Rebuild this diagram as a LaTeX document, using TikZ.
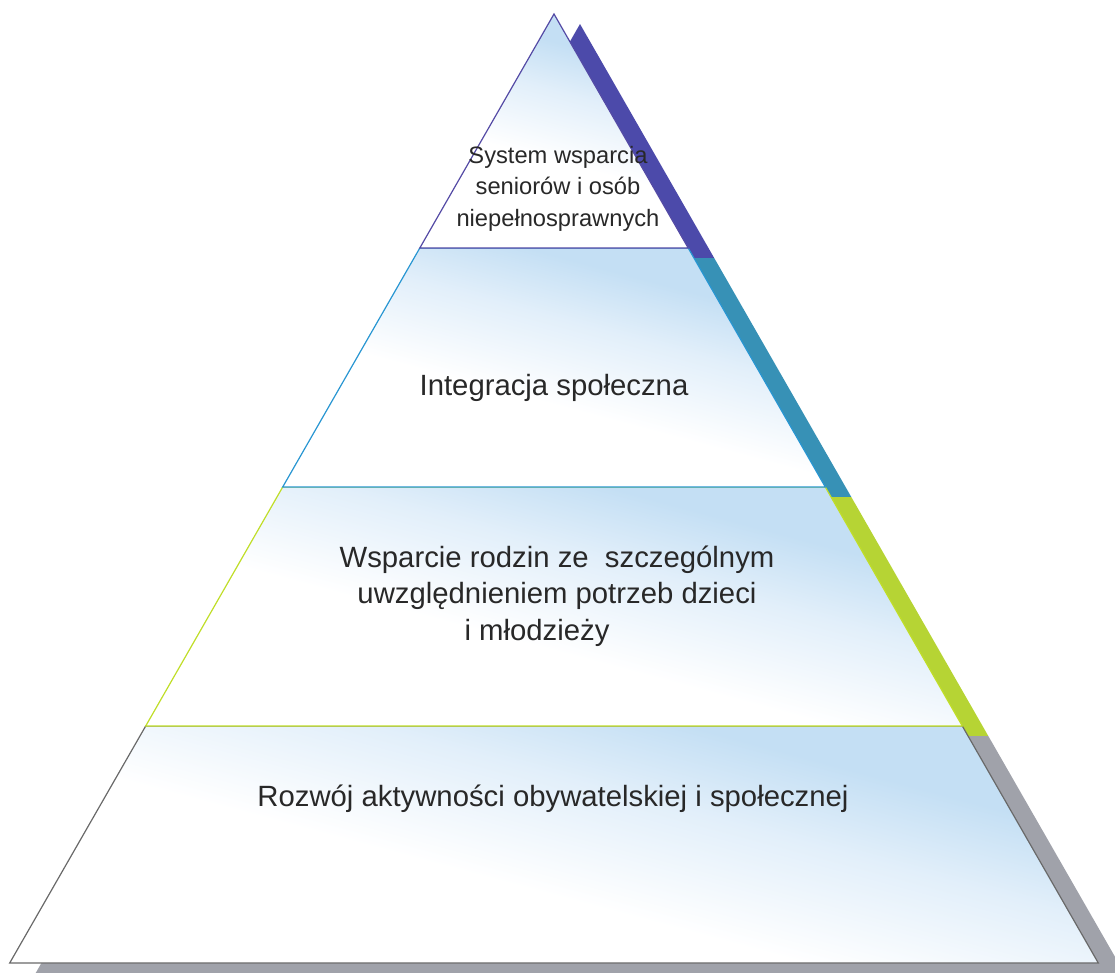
\documentclass[tikz,border=0pt]{standalone}
\usepackage{fontspec}
\setmainfont{Liberation Sans}
\definecolor{lb}{RGB}{196,223,244}
\definecolor{lbmid}{RGB}{226,239,250}
\definecolor{ln1}{RGB}{84,74,165}
\definecolor{ln2}{RGB}{40,150,210}
\definecolor{ln3}{RGB}{192,222,40}
\definecolor{ln4}{RGB}{105,105,105}
\definecolor{sh1}{RGB}{76,74,170}
\definecolor{sh2}{RGB}{55,145,182}
\definecolor{sh3}{RGB}{182,212,52}
\definecolor{sh4}{RGB}{160,162,170}
\definecolor{txtc}{RGB}{40,40,40}
\pgfdeclareverticalshading{layershade}{100bp}{color(0bp)=(white); color(25bp)=(white); color(44bp)=(white); color(58bp)=(lbmid); color(68bp)=(lb); color(100bp)=(lb)}
\begin{document}
\begin{tikzpicture}[x=1pt,y=-1pt,
  layer/.style={line width=1.2pt, shading=layershade, shading angle=-15},
  bigtxt/.style={text=txtc, font=\fontsize{29.3}{36.5}\selectfont, align=center, inner sep=0pt},
  smalltxt/.style={text=txtc, font=\fontsize{23.7}{31.5}\selectfont, align=center, inner sep=0pt}]
\useasboundingbox (0,0) rectangle (1115,972);
\clip (0,0) rectangle (1115,972);
% outline corners
\coordinate (A)  at (554,14);
\coordinate (L1) at (419.8,248); \coordinate (R1) at (688.2,248);
\coordinate (L2) at (282.7,487); \coordinate (R2) at (825.3,487);
\coordinate (L3) at (145.7,726); \coordinate (R3) at (962.3,726);
\coordinate (L4) at (9.7,963);   \coordinate (R4) at (1098.3,963);
% shadows
\fill[sh1] ([shift={(26,10)}]A) -- ([shift={(26,10)}]R1) -- ([shift={(26,10)}]L1) -- cycle;
\fill[sh2] ([shift={(26,10)}]L1) -- ([shift={(26,10)}]R1) -- ([shift={(26,10)}]R2) -- ([shift={(26,10)}]L2) -- cycle;
\fill[sh3] ([shift={(26,10)}]L2) -- ([shift={(26,10)}]R2) -- ([shift={(26,10)}]R3) -- ([shift={(26,10)}]L3) -- cycle;
\fill[sh4] ([shift={(26,10)}]L3) -- ([shift={(26,10)}]R3) -- ([shift={(26,10)}]R4) -- ([shift={(26,10)}]L4) -- cycle;
% layers
\draw[layer, draw=ln4] (L3) -- (R3) -- (R4) -- (L4) -- cycle;
\draw[layer, draw=ln3] (L2) -- (R2) -- (R3) -- (L3) -- cycle;
\draw[layer, draw=ln2] (L1) -- (R1) -- (R2) -- (L2) -- cycle;
\draw[layer, draw=ln1] (A) -- (R1) -- (L1) -- cycle;
% texts
\node[smalltxt, anchor=base] (t1) at (558,226) {System wsparcia\\seniorów i osób\\niepełnosprawnych};
\node[bigtxt, anchor=base] (t2) at (554,395) {Integracja społeczna};
\node[bigtxt, anchor=base] (t3) at (557,640) {Wsparcie rodzin ze~ szczególnym\\uwzględnieniem potrzeb dzieci\\i młodzieży\hspace*{40pt}};
\node[bigtxt, anchor=base] (t4) at (553,806) {Rozwój aktywności obywatelskiej i społecznej};
\end{tikzpicture}
\end{document}
